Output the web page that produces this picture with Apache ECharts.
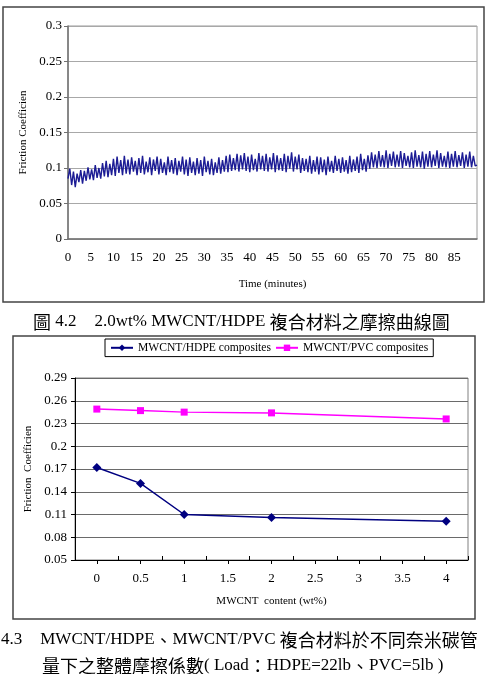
<!DOCTYPE html>
<html><head><meta charset="utf-8">
<script src="https://cdn.jsdelivr.net/npm/echarts@6/dist/echarts.min.js"></script>
<style>html,body{margin:0;padding:0;background:#fff}#c{width:491px;height:674px}</style>
</head><body><div id="c"></div>
<script>
// ---- Chart 1: friction curve, 2.0wt% MWCNT/HDPE ----
const timeStep = 0.4; // minutes between recorded samples
const friction = [
0.085,0.099,0.076,0.095,0.073,0.092,0.080,0.097,0.078,0.096,
0.082,0.101,0.084,0.098,0.083,0.104,0.086,0.100,0.085,0.107,
0.088,0.110,0.087,0.106,0.090,0.113,0.089,0.116,0.093,0.111,
0.090,0.117,0.092,0.112,0.091,0.115,0.095,0.110,0.090,0.114,
0.093,0.117,0.091,0.109,0.094,0.115,0.090,0.112,0.096,0.116,
0.091,0.113,0.093,0.108,0.090,0.116,0.094,0.111,0.092,0.114,
0.090,0.110,0.095,0.116,0.091,0.112,0.089,0.115,0.093,0.109,
0.090,0.114,0.092,0.111,0.089,0.116,0.094,0.110,0.091,0.113,
0.090,0.108,0.093,0.115,0.092,0.111,0.095,0.117,0.094,0.119,
0.096,0.114,0.097,0.120,0.095,0.118,0.098,0.121,0.096,0.116,
0.094,0.119,0.097,0.113,0.095,0.121,0.098,0.117,0.096,0.120,
0.095,0.115,0.098,0.121,0.094,0.118,0.097,0.114,0.096,0.120,
0.094,0.117,0.099,0.122,0.095,0.116,0.098,0.119,0.093,0.114,
0.096,0.113,0.094,0.117,0.092,0.111,0.095,0.116,0.091,0.115,
0.094,0.112,0.090,0.116,0.095,0.110,0.093,0.117,0.096,0.113,
0.093,0.115,0.095,0.111,0.092,0.117,0.094,0.112,0.096,0.116,
0.093,0.120,0.097,0.113,0.095,0.118,0.099,0.122,0.101,0.119,
0.100,0.124,0.102,0.118,0.101,0.125,0.100,0.120,0.103,0.123,
0.101,0.119,0.102,0.124,0.100,0.121,0.103,0.117,0.101,0.122,
0.100,0.125,0.102,0.118,0.101,0.123,0.099,0.120,0.102,0.124,
0.101,0.119,0.103,0.125,0.100,0.121,0.102,0.117,0.101,0.123,
0.100,0.120,0.102,0.124,0.101,0.118,0.103,0.122,0.100,0.119,
0.102,0.123,0.101,0.117,0.103,0.104
];
const xTicks1 = {min: 0, max: 90, interval: 5};
const yTicks1 = {min: 0, max: 0.3, interval: 0.05};

// ---- Chart 2: overall friction coefficient vs MWCNT content ----
const contentCats = ['0','0.5','1','1.5','2','2.5','3','3.5','4'];
const hdpe = [0.172, 0.151, 0.110, null, 0.106, null, null, null, 0.101];
const pvc  = [0.249, 0.247, 0.245, null, 0.244, null, null, null, 0.236];
const yTicks2 = [0.05, 0.08, 0.11, 0.14, 0.17, 0.2, 0.23, 0.26, 0.29];
const seriesNames = ['MWCNT/HDPE composites', 'MWCNT/PVC composites'];

// ---- Captions ----
const caption1 = '圖 4.2　2.0wt% MWCNT/HDPE 複合材料之摩擦曲線圖';
const caption2a = '4.3　MWCNT/HDPE、MWCNT/PVC 複合材料於不同奈米碳管';
const caption2b = '量下之整體摩擦係數( Load：HDPE=22lb、PVC=5lb )';

const serif = '"Liberation Serif", "Noto Sans CJK TC", serif';
const cjkFont = '"Noto Sans CJK TC", sans-serif';
// wrap runs of CJK characters/punctuation in a rich-text style so they get the CJK size
function richCaption(s) {
  return s.replace(/([\u3000-\u303f\u4e00-\u9fff\uff00-\uffef]+)/g, '{c|$1}');
}
const capRich = {c: {fontFamily: cjkFont, fontSize: 18, fill: '#000'}};

const chart = echarts.init(document.getElementById('c'), null, {renderer: 'canvas'});
const lbl = {color: '#000', fontFamily: serif, fontSize: 13};

chart.setOption({
  animation: false,
  backgroundColor: '#fff',
  textStyle: {fontFamily: serif},
  grid: [
    {left: 68, top: 26, width: 409, height: 213, show: true, borderColor: '#9a9a9a', borderWidth: 1},
    {left: 75, top: 378, width: 393, height: 182, show: true, borderColor: '#808080', borderWidth: 1}
  ],
  legend: {
    data: seriesNames,
    left: 105, top: 339,
    borderColor: '#000', borderWidth: 1,
    padding: [3, 5, 3, 5],
    itemWidth: 22, itemHeight: 8, itemGap: 4,
    textStyle: {fontFamily: serif, fontSize: 11.6, color: '#000'}
  },
  xAxis: [
    {
      gridIndex: 0, type: 'value', min: xTicks1.min, max: xTicks1.max, interval: xTicks1.interval,
      name: 'Time (minutes)', nameLocation: 'middle', nameGap: 40,
      nameTextStyle: {fontFamily: serif, fontSize: 11, color: '#000'},
      axisLine: {show: true, lineStyle: {color: '#707070', width: 1.5}},
      axisTick: {show: false},
      splitLine: {show: false},
      axisLabel: Object.assign({margin: 12, showMaxLabel: false}, lbl)
    },
    {
      gridIndex: 1, type: 'category', data: contentCats, boundaryGap: true, position: 'bottom',
      name: 'MWCNT  content (wt%)', nameLocation: 'middle', nameGap: 36,
      nameTextStyle: {fontFamily: serif, fontSize: 11, color: '#000'},
      axisLine: {show: true, lineStyle: {color: '#000', width: 1}},
      axisTick: {show: true, alignWithLabel: true, inside: false, length: 4, lineStyle: {color: '#000'}},
      splitLine: {show: false},
      axisLabel: Object.assign({margin: 12, interval: 0}, lbl)
    },
    {
      gridIndex: 1, type: 'category', data: contentCats, boundaryGap: true, position: 'bottom',
      axisLine: {show: false},
      axisTick: {show: true, inside: true, length: 4, interval: 0, lineStyle: {color: '#000'}},
      axisLabel: {show: false},
      splitLine: {show: false}
    }
  ],
  yAxis: [
    {
      gridIndex: 0, type: 'value', min: yTicks1.min, max: yTicks1.max, interval: yTicks1.interval,
      name: 'Friction Coefficien', nameLocation: 'middle', nameGap: 38, nameRotate: 90,
      nameTextStyle: {fontFamily: serif, fontSize: 11, color: '#000'},
      axisLine: {show: true, lineStyle: {color: '#707070', width: 1.5}},
      axisTick: {show: true, length: 4, lineStyle: {color: '#707070'}},
      splitLine: {show: true, lineStyle: {color: '#a8a8a8', width: 1}},
      axisLabel: Object.assign({margin: 6}, lbl)
    },
    {
      gridIndex: 1, type: 'value', min: yTicks2[0], max: yTicks2[yTicks2.length - 1],
      name: 'Friction  Coefficien', nameLocation: 'middle', nameGap: 34, nameRotate: 90,
      nameTextStyle: {fontFamily: serif, fontSize: 11, color: '#000'},
      axisLine: {show: true, lineStyle: {color: '#000', width: 1}},
      axisTick: {show: true, length: 4, customValues: yTicks2, lineStyle: {color: '#000'}},
      splitLine: {show: true, lineStyle: {color: '#6a6a6a', width: 1}},
      axisLabel: Object.assign({margin: 8, customValues: yTicks2, formatter: v => String(+v.toFixed(2))}, lbl)
    }
  ],
  series: [
    {
      type: 'line', xAxisIndex: 0, yAxisIndex: 0, showSymbol: false, symbol: 'none',
      data: friction.map((v, i) => [i * timeStep, v]),
      lineStyle: {color: '#1c1c95', width: 1.4},
      silent: true
    },
    {
      name: seriesNames[0], type: 'line', xAxisIndex: 1, yAxisIndex: 1, connectNulls: true,
      data: hdpe, symbol: 'diamond', symbolSize: 9,
      itemStyle: {color: '#000080'}, lineStyle: {color: '#000080', width: 1.5}
    },
    {
      name: seriesNames[1], type: 'line', xAxisIndex: 1, yAxisIndex: 1, connectNulls: true,
      data: pvc, symbol: 'rect', symbolSize: 7,
      itemStyle: {color: '#ff00ff'}, lineStyle: {color: '#ff00ff', width: 1.5}
    }
  ],
  graphic: [
    {type: 'rect', shape: {x: 3, y: 7, width: 481, height: 295}, style: {fill: 'none', stroke: '#444', lineWidth: 1.5}, silent: true},
    {type: 'rect', shape: {x: 13, y: 336, width: 462, height: 283}, style: {fill: 'none', stroke: '#444', lineWidth: 1.5}, silent: true},
    {type: 'text', x: 33, y: 322, style: {text: richCaption(caption1), font: '17px ' + serif, fill: '#000', verticalAlign: 'middle', align: 'left', rich: capRich}, silent: true},
    {type: 'text', x: 1, y: 640, style: {text: richCaption(caption2a), font: '17px ' + serif, fill: '#000', verticalAlign: 'middle', align: 'left', rich: capRich}, silent: true},
    {type: 'text', x: 42, y: 666, style: {text: richCaption(caption2b), font: '17px ' + serif, fill: '#000', verticalAlign: 'middle', align: 'left', rich: capRich}, silent: true}
  ]
});
</script>
</body></html>
